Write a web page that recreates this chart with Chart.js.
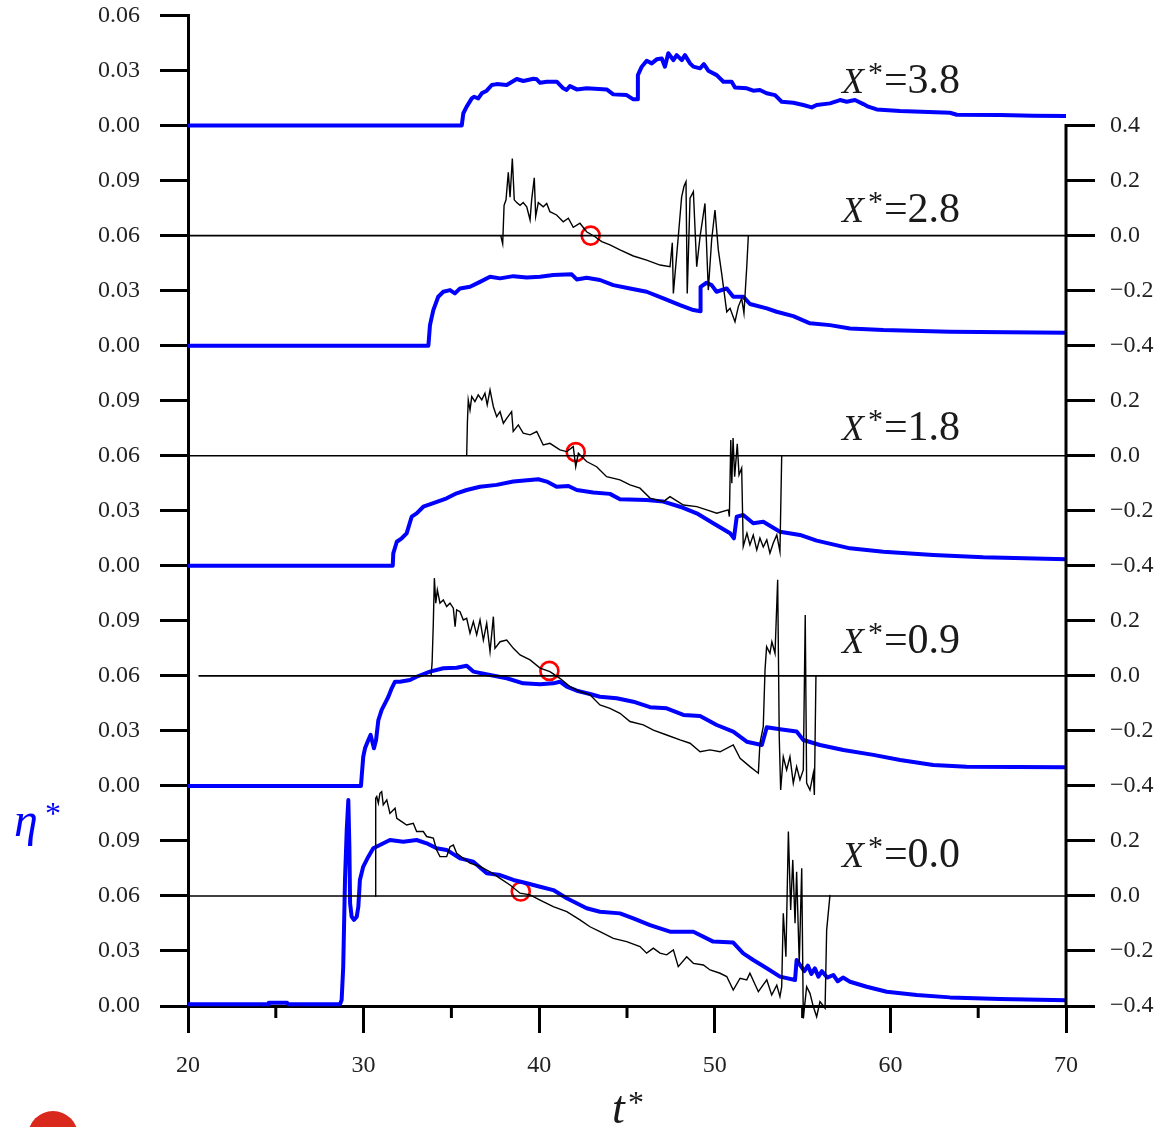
<!DOCTYPE html>
<html>
<head>
<meta charset="utf-8">
<title>eta* frente a t*</title>
<script src="https://cdn.jsdelivr.net/npm/chart.js@4.4.0/dist/chart.umd.min.js"></script>
<style>
  html, body { margin: 0; padding: 0; background: #fff; }
  #wrap { position: relative; width: 1159px; height: 1127px; overflow: hidden; }
  #logo { position: absolute; left: 28px; top: 1111px; width: 50px; height: 50px; border-radius: 50%; background: #d9281c; }
</style>
</head>
<body>
<div id="wrap"><canvas id="grafico"></canvas><div id="logo"></div></div>
<script>
// paneles de abajo a arriba: x* = 0.0, 0.9, 1.8, 2.8, 3.8
const PANELES = ['0.0', '0.9', '1.8', '2.8', '3.8'];
const DESPLAZ = [0, 0.12, 0.24, 0.36, 0.48];   // cada panel ocupa 0.12 del eje izquierdo

const X_TICKS = [20, 30, 40, 50, 60, 70];
const X_MENORES = [25, 35, 45, 55, 65];
const Y_IZQ_ETIQ = ['0.00', '0.03', '0.06', '0.09'];
const Y_DER_ETIQ = ['\u22120.4', '\u22120.2', '0.0', '0.2'];

// eta* (eje izquierdo), pares [t*, eta*]
const AZUL_38 = [[20,0],[35.59,0],[35.68,0.0067],[35.87,0.0103],[36.16,0.0148],[36.29,0.0157],[36.53,0.0148],[36.73,0.0176],[37.01,0.019],[37.3,0.0221],[37.58,0.0226],[38.15,0.0221],[38.72,0.0254],[39.1,0.0243],[39.67,0.0255],[39.86,0.0252],[40.05,0.0233],[40.43,0.0239],[41.0,0.0239],[41.37,0.0203],[41.56,0.0194],[41.75,0.0215],[42.14,0.0197],[42.7,0.0203],[43.84,0.0197],[44.22,0.017],[44.98,0.0166],[45.36,0.0143],[45.59,0.0143],[45.62,0.0275],[45.84,0.0321],[46.12,0.0353],[46.41,0.0339],[46.69,0.0361],[46.98,0.0366],[47.16,0.0321],[47.35,0.0394],[47.64,0.0357],[47.83,0.0384],[48.12,0.0357],[48.3,0.0384],[48.59,0.0339],[48.78,0.0321],[49.16,0.0312],[49.38,0.0335],[49.63,0.0299],[50.11,0.0275],[50.49,0.0239],[50.96,0.0239],[51.15,0.0208],[51.82,0.0203],[52.19,0.019],[52.57,0.0194],[52.95,0.0176],[53.43,0.0166],[53.81,0.013],[54.47,0.0124],[55.04,0.0112],[55.52,0.0099],[55.8,0.0112],[56.56,0.0121],[57.13,0.0139],[57.51,0.013],[57.98,0.0139],[58.46,0.0117],[58.74,0.0103],[59.22,0.0088],[60.55,0.0079],[63.39,0.007],[63.78,0.0059],[66.24,0.0057],[68.12,0.0053],[70,0.0052]];
const AZUL_28 = [[20,0],[33.69,0],[33.78,0.0112],[33.97,0.0194],[34.25,0.0267],[34.54,0.0294],[34.92,0.0303],[35.2,0.0285],[35.49,0.0312],[36.06,0.0321],[36.63,0.0348],[37.2,0.0376],[37.77,0.0367],[38.53,0.0379],[39.29,0.0372],[40.05,0.0376],[40.8,0.0385],[41.85,0.0389],[42.14,0.0361],[42.7,0.037],[43.46,0.0358],[44.22,0.033],[45.17,0.0312],[46.12,0.0294],[47.07,0.0258],[48.02,0.0221],[48.78,0.0194],[49.17,0.0188],[49.19,0.0321],[49.53,0.0343],[49.82,0.033],[50.1,0.0294],[50.68,0.0312],[51.05,0.0267],[51.62,0.0267],[52.0,0.0227],[52.96,0.0203],[53.52,0.0185],[54.47,0.0161],[55.42,0.0122],[56.56,0.0112],[57.7,0.0094],[59.6,0.0085],[63.39,0.0076],[70,0.007]];
const AZUL_18 = [[20,0],[31.66,0],[31.69,0.0068],[31.89,0.0131],[32.17,0.015],[32.45,0.0177],[32.74,0.0268],[33.02,0.0286],[33.4,0.0322],[33.97,0.0341],[34.73,0.0368],[35.3,0.0395],[35.87,0.0413],[36.63,0.0431],[37.58,0.0441],[38.52,0.0459],[39.48,0.0468],[39.95,0.0472],[40.43,0.0459],[40.99,0.0431],[41.66,0.0435],[42.14,0.0413],[43.08,0.0399],[44.03,0.0392],[44.6,0.0363],[46.12,0.0359],[47.07,0.035],[48.02,0.0322],[48.97,0.0286],[49.91,0.0232],[50.87,0.0177],[51.09,0.015],[51.25,0.0268],[51.62,0.0277],[52.19,0.0232],[52.76,0.024],[53.71,0.0186],[54.85,0.0168],[55.8,0.0137],[57.7,0.0095],[59.6,0.0077],[62.44,0.0059],[65.29,0.0046],[70,0.0035]];
const AZUL_09 = [[20,0],[29.85,0],[29.89,0.005],[29.98,0.0159],[30.08,0.0205],[30.27,0.025],[30.4,0.0278],[30.59,0.0205],[30.71,0.025],[30.84,0.0359],[31.03,0.0414],[31.22,0.045],[31.41,0.0486],[31.6,0.0532],[31.79,0.0568],[32.07,0.0568],[32.64,0.0577],[33.02,0.0595],[33.78,0.0623],[34.54,0.0641],[35.3,0.0644],[35.87,0.0655],[36.25,0.0623],[37.2,0.0605],[38.15,0.0587],[39.09,0.0559],[40.05,0.0554],[40.8,0.0559],[41.18,0.0568],[41.57,0.0541],[42.14,0.0519],[42.89,0.0501],[43.46,0.0486],[44.41,0.0478],[45.36,0.0459],[46.31,0.0429],[47.26,0.0423],[48.21,0.0387],[49.16,0.0381],[50.11,0.0332],[51.05,0.0296],[51.82,0.0241],[52.68,0.0223],[52.96,0.032],[53.71,0.0309],[54.66,0.0296],[55.04,0.025],[55.99,0.0223],[57.32,0.0196],[59.03,0.0169],[60.55,0.0141],[62.44,0.0114],[64.34,0.0105],[70,0.0101]];
const AZUL_00 = [[20,0.001],[24.56,0.001],[24.6,0.0018],[25.64,0.0018],[25.7,0.001],[28.66,0.001],[28.75,0.0033],[28.84,0.0214],[28.94,0.0687],[29.04,0.096],[29.13,0.1123],[29.19,0.0869],[29.23,0.056],[29.32,0.0487],[29.45,0.0469],[29.61,0.0487],[29.7,0.0541],[29.79,0.0687],[29.98,0.076],[30.27,0.0814],[30.55,0.086],[30.93,0.0878],[31.5,0.0905],[32.26,0.0896],[33.02,0.0905],[33.59,0.0887],[34.16,0.086],[34.73,0.0851],[35.49,0.0805],[36.25,0.0787],[37.01,0.0724],[37.77,0.0714],[38.53,0.0687],[39.29,0.0669],[40.05,0.065],[40.8,0.0632],[41.57,0.0587],[42.7,0.0533],[43.46,0.0514],[44.6,0.0505],[45.36,0.0478],[46.31,0.0441],[47.45,0.0405],[48.78,0.0405],[49.91,0.0351],[51.05,0.0346],[51.62,0.0287],[52.19,0.0251],[52.96,0.0206],[53.71,0.016],[54.57,0.0142],[54.66,0.0251],[54.85,0.0224],[55.1,0.019],[55.3,0.022],[55.5,0.0175],[55.7,0.0205],[55.9,0.016],[56.1,0.019],[56.4,0.0155],[56.75,0.0169],[57.0,0.0135],[57.3,0.0155],[57.7,0.0132],[58.65,0.0105],[59.79,0.0078],[61.5,0.006],[63.39,0.0047],[66.24,0.0038],[70,0.0031]];

// senal negra (eje derecho), pares [t*, valor]
const NEGRO_28 = [[37.81,0],[37.92,-0.03],[38.0,0.11],[38.11,0.13],[38.24,0.23],[38.34,0.14],[38.47,0.28],[38.58,0.13],[38.72,0.12],[38.91,0.11],[39.09,0.12],[39.29,0.105],[39.48,0.057],[39.57,0.13],[39.72,0.21],[39.8,0.07],[39.95,0.12],[40.23,0.105],[40.43,0.117],[40.61,0.087],[40.99,0.075],[41.37,0.05],[41.66,0.063],[41.94,0.03],[42.32,0.045],[42.7,0.014],[43.18,-0.004],[43.56,-0.022],[44.03,-0.034],[44.6,-0.052],[45.36,-0.074],[46.12,-0.089],[46.88,-0.107],[47.45,-0.113],[47.58,-0.026],[47.64,-0.21],[47.92,-0.004],[48.11,0.14],[48.25,0.18],[48.36,0.196],[48.43,-0.21],[48.59,0.136],[48.78,0.16],[48.97,-0.113],[49.16,-0.004],[49.44,0.117],[49.63,-0.198],[49.82,-0.016],[50.01,0.093],[50.2,-0.052],[50.39,-0.137],[50.68,-0.277],[50.87,-0.264],[51.15,-0.313],[51.34,-0.258],[51.53,-0.228],[51.66,-0.282],[51.82,-0.113],[51.91,0]];
const NEGRO_18 = [[35.87,0],[35.91,0.118],[35.96,0.203],[36.06,0.166],[36.16,0.215],[36.34,0.197],[36.53,0.221],[36.73,0.203],[36.91,0.227],[37.04,0.185],[37.2,0.239],[37.39,0.178],[37.58,0.142],[37.77,0.16],[37.96,0.118],[38.15,0.136],[38.43,0.16],[38.52,0.088],[38.81,0.112],[39.09,0.082],[39.48,0.076],[39.86,0.088],[40.23,0.039],[40.61,0.045],[41.18,0.021],[41.57,0.015],[41.94,0.033],[42.08,-0.04],[42.23,0.009],[42.7,-0.021],[43.27,-0.04],[43.84,-0.076],[44.6,-0.088],[45.17,-0.106],[45.74,-0.118],[46.31,-0.154],[47.07,-0.167],[47.45,-0.149],[48.21,-0.179],[48.97,-0.185],[49.54,-0.197],[50.11,-0.209],[50.77,-0.197],[50.83,-0.221],[50.91,0.057],[50.97,-0.1],[51.04,0.064],[51.13,-0.076],[51.28,0.043],[51.38,-0.07],[51.53,-0.045],[51.62,-0.33],[51.83,-0.282],[52.0,-0.324],[52.19,-0.288],[52.39,-0.342],[52.57,-0.299],[52.76,-0.332],[52.96,-0.306],[53.14,-0.354],[53.33,-0.317],[53.53,-0.288],[53.71,-0.349],[53.81,0]];
const NEGRO_09 = [[33.84,0],[33.9,0.046],[33.97,0.191],[34.03,0.355],[34.11,0.264],[34.2,0.312],[34.35,0.264],[34.54,0.276],[34.73,0.252],[34.92,0.264],[35.11,0.246],[35.21,0.179],[35.3,0.24],[35.49,0.233],[35.68,0.203],[35.87,0.209],[36.06,0.155],[36.25,0.197],[36.44,0.149],[36.63,0.203],[36.82,0.13],[37.01,0.191],[37.2,0.088],[37.39,0.215],[37.48,0.1],[37.77,0.124],[38.15,0.13],[38.53,0.1],[38.91,0.076],[39.48,0.058],[40.05,0.028],[40.61,0.015],[41.18,-0.009],[41.75,-0.039],[42.32,-0.057],[42.89,-0.069],[43.46,-0.106],[44.03,-0.118],[44.6,-0.136],[45.17,-0.166],[45.93,-0.178],[46.5,-0.197],[47.26,-0.215],[48.02,-0.233],[48.59,-0.245],[49.16,-0.276],[49.73,-0.269],[50.3,-0.276],[51.05,-0.251],[51.44,-0.3],[52.0,-0.33],[52.48,-0.354],[52.57,-0.245],[52.76,-0.185],[52.86,0.021],[52.95,0.106],[53.14,0.082],[53.25,0.124],[53.43,0.082],[53.58,0.349],[53.67,-0.221],[53.75,-0.415],[53.9,-0.294],[54.09,-0.342],[54.28,-0.294],[54.47,-0.39],[54.66,-0.33],[54.85,-0.378],[55.04,-0.342],[55.15,0.221],[55.23,-0.39],[55.42,-0.415],[55.61,-0.354],[55.67,-0.433],[55.76,0]];
const NEGRO_00 = [[30.65,0],[30.69,0.355],[30.75,0.361],[30.84,0.337],[30.93,0.373],[31.03,0.379],[31.12,0.331],[31.32,0.349],[31.5,0.3],[31.79,0.319],[31.89,0.282],[32.17,0.27],[32.45,0.258],[32.83,0.264],[33.02,0.234],[33.4,0.234],[33.59,0.216],[33.97,0.21],[34.16,0.167],[34.35,0.143],[34.73,0.143],[34.92,0.179],[35.11,0.185],[35.3,0.155],[35.68,0.137],[36.06,0.119],[36.63,0.107],[37.2,0.088],[37.77,0.064],[38.34,0.04],[38.91,0.01],[39.48,0.004],[40.05,-0.015],[40.8,-0.039],[41.57,-0.057],[42.32,-0.087],[42.89,-0.112],[43.46,-0.13],[44.22,-0.154],[44.98,-0.166],[45.74,-0.184],[46.12,-0.208],[46.5,-0.19],[46.88,-0.208],[47.26,-0.214],[47.64,-0.196],[47.92,-0.257],[48.4,-0.221],[48.78,-0.245],[49.35,-0.251],[49.73,-0.269],[50.3,-0.281],[50.68,-0.293],[51.05,-0.342],[51.44,-0.299],[51.82,-0.305],[52.0,-0.281],[52.48,-0.348],[52.96,-0.305],[53.24,-0.36],[53.53,-0.324],[53.71,-0.366],[53.81,-0.33],[53.9,-0.063],[54.05,-0.221],[54.19,0.234],[54.32,-0.051],[54.44,0.131],[54.57,-0.099],[54.66,0.088],[54.81,-0.245],[54.95,0.101],[55.04,-0.445],[55.23,-0.33],[55.42,-0.354],[55.61,-0.402],[55.8,-0.439],[55.99,-0.384],[56.28,-0.408],[56.37,-0.124],[56.56,0.004]];

// lineas de cero de la senal negra (inicio en t*)
const CERO_INICIO = [20, 20.6, 20, 20];   // paneles 0.0, 0.9, 1.8, 2.8
// circulos rojos [t*, valor eje derecho]
const CIRCULOS = [[38.95,0.016],[40.58,0.018],[42.08,0.013],[42.93,0]];

const LABEL_T = 57.24;
const LABEL_DY = [0.0758, 0.0724, 0.0686, 0.0674, 0.0177];

const FUENTE = '"Liberation Serif", "DejaVu Serif", serif';
const AZUL = '#0000ff';

const izq = (panel, eta) => DESPLAZ[panel] + eta;
const der = (panel, r) => DESPLAZ[panel] + 0.06 + r * 0.15;

const azules = [AZUL_00, AZUL_09, AZUL_18, AZUL_28, AZUL_38];
const negros = [NEGRO_00, NEGRO_09, NEGRO_18, NEGRO_28];

const datasets = [];
negros.forEach((serie, i) => {
  datasets.push({
    data: [{ x: CERO_INICIO[i], y: der(i, 0) }, { x: 70, y: der(i, 0) }],
    borderColor: '#000', borderWidth: 1.6, pointRadius: 0
  });
});
negros.forEach((serie, i) => {
  datasets.push({
    data: serie.map(([t, r]) => ({ x: t, y: der(i, r) })),
    borderColor: '#000', borderWidth: 1.4, pointRadius: 0
  });
});
azules.forEach((serie, i) => {
  datasets.push({
    data: serie.map(([t, e]) => ({ x: t, y: izq(i, e) })),
    borderColor: AZUL, borderWidth: 4, pointRadius: 0, borderJoinStyle: 'round'
  });
});
datasets.push({
  type: 'scatter',
  data: CIRCULOS.map(([t, r], i) => ({ x: t, y: der(i, r) })),
  showLine: false, pointRadius: 9, pointBorderWidth: 2.6,
  pointBorderColor: '#ff0000', pointBackgroundColor: 'rgba(0,0,0,0)'
});

const sinRelleno = s => { s.paddingTop = 0; s.paddingBottom = 0; s.paddingLeft = 0; s.paddingRight = 0; };

const extras = {
  id: 'extras',
  afterDraw(chart) {
    const { ctx, scales: { x, y } } = chart;
    const base = y.getPixelForValue(0);
    ctx.save();
    // eje derecho (solo hasta 0.4)
    ctx.strokeStyle = '#000';
    ctx.lineWidth = 3;
    ctx.beginPath();
    ctx.moveTo(chart.chartArea.right, y.getPixelForValue(0.48) - 1.5);
    ctx.lineTo(chart.chartArea.right, base);
    ctx.stroke();
    // marcas menores del eje t*
    X_MENORES.forEach(v => {
      const px = x.getPixelForValue(v);
      ctx.beginPath();
      ctx.moveTo(px, base);
      ctx.lineTo(px, base + 12);
      ctx.stroke();
    });
    // etiquetas X*=...
    ctx.fillStyle = '#1a1a1a';
    ctx.textAlign = 'left';
    ctx.textBaseline = 'alphabetic';
    const x0 = x.getPixelForValue(LABEL_T);
    PANELES.forEach((p, i) => {
      const yb = y.getPixelForValue(DESPLAZ[i] + LABEL_DY[i]);
      ctx.font = 'italic 36px ' + FUENTE;
      ctx.fillText('X', x0, yb);
      ctx.font = '30px ' + FUENTE;
      ctx.fillText('*', x0 + 26, yb - 11);
      ctx.font = '42px ' + FUENTE;
      ctx.fillText('=' + p, x0 + 42, yb);
    });
    // titulo eje izquierdo
    ctx.fillStyle = AZUL;
    ctx.font = 'italic 48px ' + FUENTE;
    const ye = y.getPixelForValue(0.0927);
    ctx.fillText('\u03b7', 14, ye);
    ctx.font = '32px ' + FUENTE;
    ctx.fillText('*', 45, ye - 12);
    // titulo eje t*
    ctx.fillStyle = '#1a1a1a';
    ctx.font = 'italic 46px ' + FUENTE;
    const xt = x.getPixelForValue(44.15);
    ctx.fillText('t', xt, base + 117);
    ctx.font = '32px ' + FUENTE;
    ctx.fillText('*', xt + 16, base + 107);
    ctx.restore();
  }
};

const fuenteTicks = { family: FUENTE, size: 24 };

new Chart(document.getElementById('grafico'), {
  type: 'line',
  data: { datasets },
  options: {
    responsive: true,
    maintainAspectRatio: false,
    animation: false,
    events: [],
    layout: { padding: { top: 15.5, left: 0, right: 0, bottom: 0 } },
    elements: { line: { tension: 0, borderCapStyle: 'butt' } },
    datasets: { line: { clip: false }, scatter: { clip: false } },
    plugins: { legend: { display: false }, tooltip: { enabled: false } },
    scales: {
      x: {
        type: 'linear', min: 20, max: 70, position: 'bottom',
        afterBuildTicks: s => { s.ticks = X_TICKS.map(v => ({ value: v })); },
        afterFit: s => { s.height = 121; sinRelleno(s); },
        grid: { drawOnChartArea: false, drawTicks: true, tickLength: 27, tickWidth: 3, tickColor: '#000' },
        border: { display: true, color: '#000', width: 3 },
        ticks: { color: '#222', font: fuenteTicks, padding: 18, maxRotation: 0, autoSkip: false }
      },
      y: {
        type: 'linear', min: 0, max: 0.54, position: 'left',
        afterBuildTicks: s => { s.ticks = Array.from({ length: 19 }, (_, k) => ({ value: k * 0.03 })); },
        afterFit: s => { s.width = 188; sinRelleno(s); },
        grid: { drawOnChartArea: false, drawTicks: true, tickLength: 28, tickWidth: 3, tickColor: '#000' },
        border: { display: true, color: '#000', width: 3 },
        ticks: {
          color: '#222', font: fuenteTicks, padding: 20, autoSkip: false,
          callback: (v, k) => Y_IZQ_ETIQ[k % 4]
        }
      },
      y2: {
        type: 'linear', min: 0, max: 0.54, position: 'right',
        afterBuildTicks: s => { s.ticks = Array.from({ length: 17 }, (_, k) => ({ value: k * 0.03 })); },
        afterFit: s => { s.width = 93; sinRelleno(s); },
        grid: { drawOnChartArea: false, drawTicks: true, tickLength: 29, tickWidth: 3, tickColor: '#000' },
        border: { display: false },
        ticks: {
          color: '#222', font: fuenteTicks, padding: 15, autoSkip: false,
          callback: (v, k) => (k === 16 ? '0.4' : Y_DER_ETIQ[k % 4])
        }
      }
    }
  },
  plugins: [extras]
});
</script>
</body>
</html>
